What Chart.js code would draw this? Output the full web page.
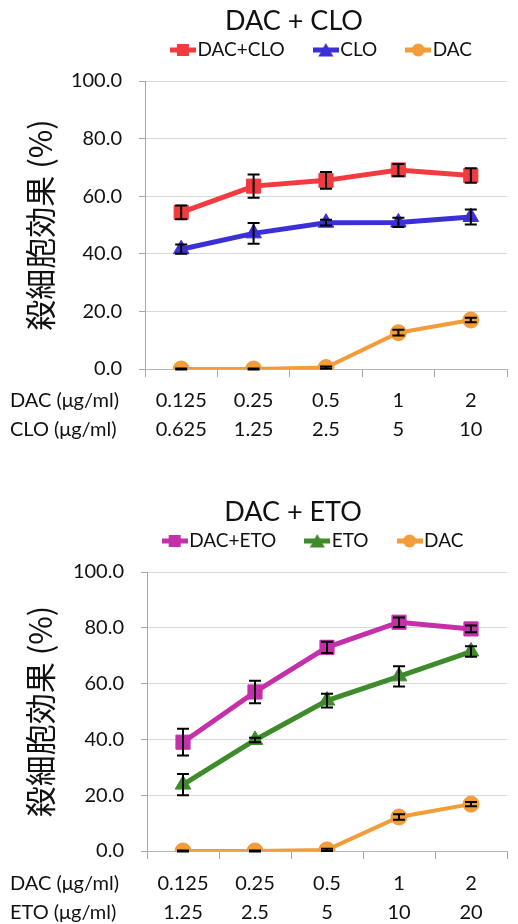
<!DOCTYPE html>
<html><head><meta charset="utf-8">
<script src="https://cdn.jsdelivr.net/npm/chart.js@4.4.1/dist/chart.umd.min.js"></script>
<style>
html,body{margin:0;padding:0;background:#fff;}
body{width:518px;height:924px;position:relative;overflow:hidden;}
.box{position:absolute;left:0;width:518px;}
</style></head><body>
<div class="box" style="top:0;height:462px"><canvas id="c1" width="518" height="462"></canvas></div>
<div class="box" style="top:491px;height:433px"><canvas id="c2" width="518" height="433"></canvas></div>
<script>
// ---- data ----
const dacDoses = ['0.125', '0.25', '0.5', '1', '2'];
const cloDoses = ['0.625', '1.25', '2.5', '5', '10'];
const etoDoses = ['1.25', '2.5', '5', '10', '20'];
const rowLabelsClo = ['DAC (μg/ml)', 'CLO (μg/ml)'];
const rowLabelsEto = ['DAC (μg/ml)', 'ETO (μg/ml)'];
const yTickValues = [0, 20, 40, 60, 80, 100];

const dacCloMean = [54.4, 63.5, 65.5, 69.1, 67.2];
const dacCloErr  = [2.4, 4.0, 2.9, 2.1, 2.5];
const cloMean    = [41.6, 47.1, 50.8, 50.9, 52.8];
const cloErr     = [1.6, 3.6, 1.0, 1.6, 2.6];
const dacMeanA   = [0.0, 0.0, 0.5, 12.6, 17.0];
const dacErrA    = [0.2, 0.2, 0.4, 1.0, 0.8];

const dacEtoMean = [39.0, 57.0, 73.0, 82.0, 79.6];
const dacEtoErr  = [4.8, 4.0, 2.0, 1.7, 1.2];
const etoMean    = [23.8, 39.8, 53.9, 62.6, 71.5];
const etoErr     = [3.8, 0.8, 2.5, 3.6, 1.9];
const dacMeanB   = [0.0, 0.0, 0.4, 12.2, 16.8];
const dacErrB    = [0.2, 0.2, 0.4, 1.0, 0.8];

// ---- style ----
const LATIN = "Lato, 'Noto Sans', 'DejaVu Sans', sans-serif";
const CJK = "'Noto Sans CJK JP', 'Noto Sans CJK SC', sans-serif";
const RED = '#F23B3F', BLUE = '#3B30D6', ORANGE = '#F29C3A', MAGENTA = '#C42FAA', GREEN = '#3E8B2C';
const TEXT = '#111111';

function legendIcon(color, style) {
  const c = document.createElement('canvas'); c.width = 26; c.height = 16;
  const g = c.getContext('2d');
  g.strokeStyle = color; g.lineWidth = 5;
  g.beginPath(); g.moveTo(0, 8); g.lineTo(26, 8); g.stroke();
  g.fillStyle = color; g.beginPath();
  if (style === 'rect') g.rect(7, 2, 12, 12);
  else if (style === 'triangle') { g.moveTo(13, 1); g.lineTo(20.5, 14.5); g.lineTo(5.5, 14.5); g.closePath(); }
  else g.arc(13, 8, 6.5, 0, Math.PI * 2);
  g.fill();
  return c;
}

function series(label, data, errors, color, style, radius, width) {
  return {
    label, data, errors, legendIcon: legendIcon(color, style),
    borderColor: color, backgroundColor: color, borderWidth: width,
    pointStyle: style, pointRadius: radius, pointHoverRadius: radius,
    pointBackgroundColor: color, pointBorderColor: color, pointBorderWidth: 1,
    tension: 0, fill: false
  };
}

const errorBars = {
  id: 'errorBars',
  afterDatasetsDraw(chart) {
    const ctx = chart.ctx, y = chart.scales.y;
    ctx.save();
    ctx.strokeStyle = '#000'; ctx.lineWidth = 2;
    chart.data.datasets.forEach((ds, di) => {
      const meta = chart.getDatasetMeta(di);
      meta.data.forEach((pt, i) => {
        const v = ds.data[i], e = ds.errors[i];
        const t = y.getPixelForValue(v + e), b = y.getPixelForValue(v - e), x = pt.x;
        ctx.beginPath();
        ctx.moveTo(x, t); ctx.lineTo(x, b);
        ctx.moveTo(x - 6, t); ctx.lineTo(x + 6, t);
        ctx.moveTo(x - 6, b); ctx.lineTo(x + 6, b);
        ctx.stroke();
      });
    });
    ctx.restore();
  }
};

const extras = {
  id: 'extras',
  beforeInit(chart) {
    const lg = chart.legend;
    if (lg && !lg._patched) {
      const orig = lg.fit;
      lg.fit = function () { orig.call(this); this.height += chart.options.plugins.extras.legendGap; };
      lg._patched = true;
    }
  },
  afterLayout(chart) {
    const o = chart.options.plugins.extras;
    if (chart.legend) { chart.legend.left += o.legendShift; chart.legend.right += o.legendShift; }
  },
  afterDraw(chart) {
    const o = chart.options.plugins.extras, ctx = chart.ctx, xs = chart.scales.x;
    ctx.save();
    ctx.fillStyle = TEXT;
    ctx.textAlign = 'center'; ctx.textBaseline = 'middle';
    ctx.font = `27px ${LATIN}`;
    ctx.fillText(o.title, o.titleX, o.titleY);
    ctx.textAlign = 'left';
    ctx.font = `20px ${LATIN}`;
    const xo = xs.options;
    const lh = 20 * 1.45;
    const y0 = xs.top + xo.grid.tickLength + xo.ticks.padding + lh / 2;
    o.rowLabels.forEach((t, i) => ctx.fillText(t, 10, y0 + i * lh));
    ctx.restore();
  }
};

function makeChart(id, cfg) {
  return new Chart(document.getElementById(id), {
    type: 'line',
    data: { labels: cfg.labels, datasets: cfg.datasets },
    plugins: [errorBars, extras],
    options: {
      responsive: false, animation: false, devicePixelRatio: 1,
      layout: { padding: { top: 4.5, left: 0, right: cfg.padRight, bottom: 0 } },
      plugins: {
        title: { display: false },
        tooltip: { enabled: false },
        extras: { title: cfg.title, titleX: cfg.titleX, titleY: 21, rowLabels: cfg.rowLabels, legendGap: 11.5, legendShift: cfg.legendShift },
        legend: {
          display: true, position: 'top', fullSize: true,
          labels: {
            usePointStyle: true, pointStyleWidth: 10, padding: 36, color: TEXT,
            font: { family: LATIN, size: 19 },
            generateLabels(chart) {
              return chart.data.datasets.map((ds, i) => ({
                text: ds.label, pointStyle: ds.legendIcon, fillStyle: ds.borderColor,
                strokeStyle: ds.borderColor, lineWidth: 0, hidden: false, datasetIndex: i, fontColor: TEXT
              }));
            }
          }
        }
      },
      scales: {
        x: {
          type: 'category', offset: true,
          afterFit(s) { s.height = cfg.xHeight; },
          grid: { display: true, offset: true, drawOnChartArea: false, drawTicks: true, tickLength: 8, tickColor: '#a6a6a6' },
          border: { display: true, color: '#b5b5b5', width: 1 },
          ticks: { color: TEXT, padding: cfg.xPad, maxRotation: 0, autoSkip: false, font: { family: LATIN, size: 20, lineHeight: 1.45 } }
        },
        y: {
          min: 0, max: 100,
          afterFit(s) { s.width = cfg.yWidth; },
          afterBuildTicks(s) { s.ticks = yTickValues.map(v => ({ value: v })); },
          grid: { color: '#d9d9d9', drawTicks: true, tickLength: 6, tickColor: '#a6a6a6' },
          border: { display: true, color: '#a6a6a6', width: 1 },
          ticks: { color: TEXT, padding: 17, font: { family: LATIN, size: 20 }, callback: v => Number(v).toFixed(1) },
          title: { display: true, text: '殺細胞効果 (%)', color: TEXT, font: { family: CJK, size: 31, lineHeight: 1.2 }, padding: { top: 22, bottom: 0 } }
        }
      }
    }
  });
}

makeChart('c1', {
  title: 'DAC + CLO', titleX: 294,
  labels: dacDoses.map((d, i) => [d, cloDoses[i]]),
  rowLabels: rowLabelsClo,
  datasets: [
    series('DAC+CLO', dacCloMean, dacCloErr, RED, 'rect', 10, 5),
    series('CLO', cloMean, cloErr, BLUE, 'triangle', 9, 5),
    series('DAC', dacMeanA, dacErrA, ORANGE, 'circle', 8, 4)
  ],
  padRight: 0, yWidth: 145, xHeight: 93, xPad: 9.5, legendShift: 66
});

makeChart('c2', {
  title: 'DAC + ETO', titleX: 293,
  labels: dacDoses.map((d, i) => [d, etoDoses[i]]),
  rowLabels: rowLabelsEto,
  datasets: [
    series('DAC+ETO', dacEtoMean, dacEtoErr, MAGENTA, 'rect', 10, 5),
    series('ETO', etoMean, etoErr, GREEN, 'triangle', 9, 5),
    series('DAC', dacMeanB, dacErrB, ORANGE, 'circle', 8, 4)
  ],
  padRight: 5, yWidth: 147, xHeight: 73, xPad: 10.5, legendShift: 60
});
</script>
</body></html>
